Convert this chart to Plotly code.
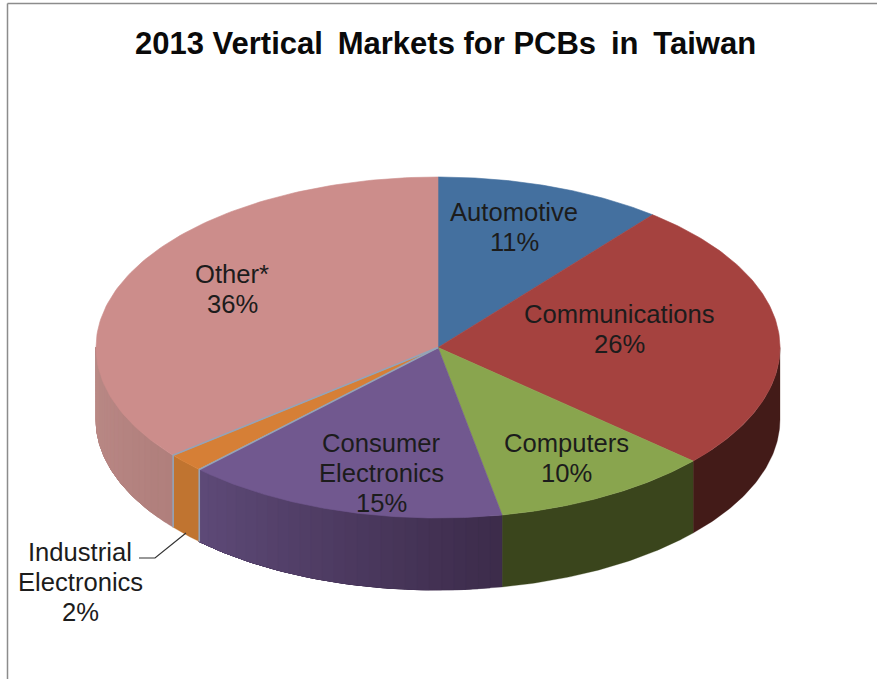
import numpy as np
import plotly.graph_objects as go

# Data (unrounded shares, labels show the rounded figure)
categories = ["Automotive", "Communications", "Computers", "Consumer<br>Electronics", "Industrial<br>Electronics", "Other*"]
shares = [10.8, 25.8, 10.4, 15.3, 1.8, 35.9]
title_text = "2013 Vertical\u2009 Markets for PCBs\u2009 in\u2009 Taiwan"

# Styles
top_colors = ["#44709f", "#a5423f", "#89a54e", "#71588f", "#d67f36", "#cc8d8b"]
wall_start = ["#2c4a6c", "#431b18", "#3a451c", "#3c2b4a", "#c07430", "#b07f7c"]
wall_end = ["#2c4a6c", "#431b18", "#3a451c", "#5e4a78", "#c07430", "#bb8a87"]
W, H = 877, 679
CX, CY, RX, RY, DEPTH = 438, 347.5, 342, 170.5, 72
LINE_PITCH = 30.3
label_xy = [(514, 227), (619, 329), (566, 458), (381, 473), (80, 582), (232, 289)]


def hex_rgb(c):
    return np.array([int(c[i:i + 2], 16) for i in (1, 3, 5)], dtype=float)


def mix(a, b, t):
    r = hex_rgb(a) * (1 - t) + hex_rgb(b) * t
    return "rgb(%d,%d,%d)" % tuple(r.round())


def px(deg, dy=0.0):
    a = np.radians(deg)
    return CX + RX * np.sin(a), CY - RY * np.cos(a) + dy


def add_fill(fig, xs, ys, color, width=0.6):
    fig.add_trace(go.Scatter(x=xs, y=ys, mode="lines", fill="toself", fillcolor=color,
                             line=dict(color=color, width=width), hoverinfo="skip", showlegend=False))


fig = go.Figure()
edges = np.concatenate([[0], np.cumsum(shares)]) * 3.6

# walls of the disc (front half only); each band runs to the slice's end so no seams show
for i in range(len(shares)):
    a0, a1 = max(edges[i], 90), min(edges[i + 1], 270)
    if a1 <= a0:
        continue
    steps = 1 if wall_start[i] == wall_end[i] else max(1, int((a1 - a0) / 2))
    cuts = np.linspace(a0, a1, steps + 1)
    for k in range(steps):
        arc = np.linspace(cuts[k], a1, 60)
        x1, y1 = px(arc)
        x2, y2 = px(arc[::-1], DEPTH)
        add_fill(fig, np.r_[x1, x2, x1[0]], np.r_[y1, y2, y1[0]],
                 mix(wall_start[i], wall_end[i], (k + 0.5) / steps), width=0.3)

# top face
for i in range(len(shares)):
    arc = np.linspace(edges[i], edges[i + 1], 120)
    x, y = px(arc)
    add_fill(fig, np.r_[CX, x, CX], np.r_[CY, y, CY], top_colors[i])

# fine separators around the small slice
for a in (edges[4], edges[5]):
    ex, ey = px(a)
    fig.add_trace(go.Scatter(x=[CX, ex, ex], y=[CY, ey, ey + DEPTH], mode="lines",
                             line=dict(color="#94a3b8", width=1.6), hoverinfo="skip", showlegend=False))

# leader of the outside label
fig.add_trace(go.Scatter(x=[139, 155, 186], y=[558, 558, 533], mode="lines",
                         line=dict(color="#333333", width=1.2), hoverinfo="skip", showlegend=False))

annotations = []
for c, s, (lx, ly) in zip(categories, shares, label_xy):
    lines = c.split("<br>") + [f"{round(s)}%"]
    for j, t in enumerate(lines):
        annotations.append(dict(x=lx, y=ly + (j - (len(lines) - 1) / 2) * LINE_PITCH, xref="x", yref="y",
                                text=t, showarrow=False, align="center",
                                font=dict(family="Liberation Sans", size=25.6, color="#1c1c1c")))
annotations.append(dict(x=445, y=43, xref="x", yref="y", text=f"<b>{title_text}</b>", showarrow=False,
                        font=dict(family="Liberation Sans", size=31, color="#0a0a0a")))

fig.update_layout(
    width=W, height=H, margin=dict(l=0, r=0, t=0, b=0), autosize=False,
    paper_bgcolor="white", plot_bgcolor="white", showlegend=False,
    xaxis=dict(range=[0, W], visible=False, fixedrange=True),
    yaxis=dict(range=[H, 0], visible=False, fixedrange=True),
    annotations=annotations,
    shapes=[dict(type="line", xref="x", yref="y", x0=7.5, x1=7.5, y0=3.5, y1=H, line=dict(color="#8c8c8c", width=1.5)),
            dict(type="line", xref="x", yref="y", x0=7.5, x1=W, y0=3.5, y1=3.5, line=dict(color="#8c8c8c", width=1.5))],
)
fig.write_html("out.html", config=dict(displayModeBar=False),
               post_script="document.body.style.margin='0';document.body.style.overflow='hidden';")
